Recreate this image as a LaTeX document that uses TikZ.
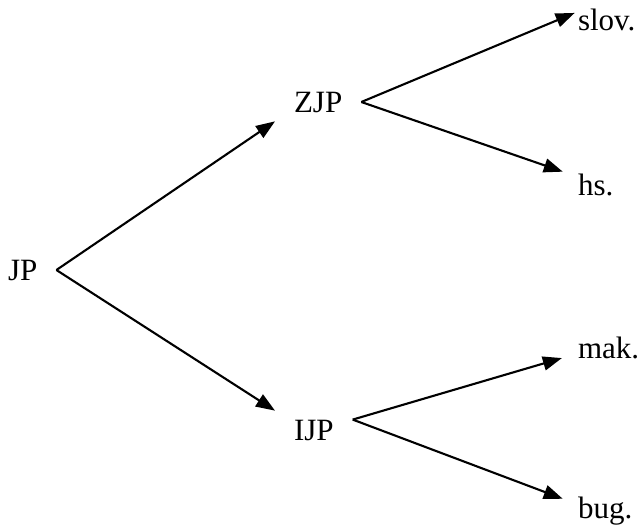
\documentclass[tikz,border=0pt]{standalone}
\usepackage{fontspec}
\setmainfont{Liberation Serif}
\usetikzlibrary{arrows.meta}

\begin{document}
\begin{tikzpicture}[x=1pt,y=-1pt,
-{Triangle[length=19pt,width=14pt]},line width=2.1pt,
every node/.style={anchor=base west,inner xsep=18pt,inner ysep=8pt,
font=\fontsize{31}{36}\selectfont}]
\useasboundingbox (0,0) rectangle (640,530);

\node (JP) at (-11,280) {JP};
\node (ZJP) at (275,112) {ZJP};
\node (IJP) at (275,440) {IJP};
\node (slov) at (559,30) {slov.};
\node (hs) at (559,195) {hs.};
\node (mak) at (559,358) {mak.};
\node (bug) at (559,518) {bug.};
\path
(JP.east) edge (ZJP.south west)
(JP.east) edge (IJP.north west)
(ZJP.east) edge[shorten >=-17pt] (slov.west)
(ZJP.east) edge[shorten >=-4pt] (hs.159)
(IJP.15) edge[shorten >=-3pt] (mak.193)
(IJP.15) edge[shorten >=-4pt] (bug.164);
\end{tikzpicture}
\end{document}
